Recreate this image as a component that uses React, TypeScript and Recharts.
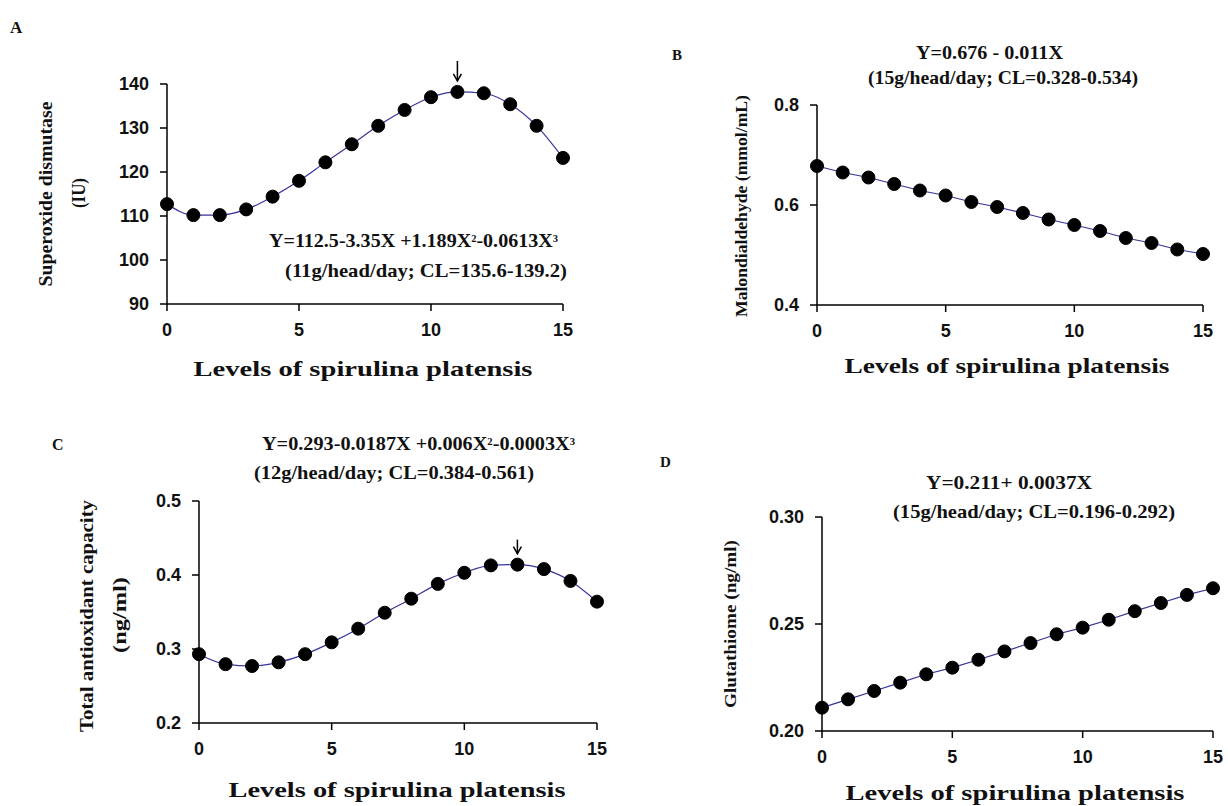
import React from "react";
import { LineChart, Line, XAxis, YAxis, ReferenceDot } from "recharts";

// spirulina level (g/head/day)
const levels = [0, 1, 2, 3, 4, 5, 6, 7, 8, 9, 10, 11, 12, 13, 14, 15];
const levelTicks = [0, 5, 10, 15];

// A: superoxide dismutase (IU)
const sodValues = [112.7, 110.2, 110.2, 111.5, 114.4, 118.0, 122.2, 126.3, 130.5, 134.1, 137.0, 138.2, 137.9, 135.4, 130.5, 123.2];
const sodTicks = [90, 100, 110, 120, 130, 140];

// B: malondialdehyde (mmol/mL)
const mdaValues = [0.678, 0.665, 0.655, 0.642, 0.629, 0.619, 0.606, 0.596, 0.584, 0.571, 0.56, 0.548, 0.534, 0.524, 0.511, 0.502];
const mdaTicks = [0.4, 0.6, 0.8];

// C: total antioxidant capacity (ng/ml)
const taocValues = [0.293, 0.2795, 0.277, 0.282, 0.293, 0.309, 0.3275, 0.349, 0.368, 0.388, 0.403, 0.413, 0.414, 0.408, 0.392, 0.364];
const taocTicks = [0.2, 0.3, 0.4, 0.5];

// D: glutathione (ng/ml)
const gshValues = [0.2109, 0.2148, 0.2187, 0.2226, 0.2265, 0.2296, 0.2333, 0.2372, 0.2411, 0.2452, 0.2483, 0.252, 0.256, 0.2598, 0.2636, 0.2667];
const gshTicks = [0.2, 0.25, 0.3];

const Y_W = 70;
const X_H = 45;
const M_TOP = 30;
const M_RIGHT = 20;

const tickStyle = { fontSize: 18, fontWeight: 700, fill: "#111", fontFamily: "'Liberation Sans', Arial, sans-serif" };
const serif = "'Liberation Serif', 'Times New Roman', serif";

function Arrow(props: any) {
  const { cx, cy, len } = props;
  const tip = cy - 11;
  return (
    <g>
      <line x1={cx} y1={tip - len} x2={cx} y2={tip} stroke="#000" strokeWidth={1.5} />
      <path d={`M${cx - 4},${tip - 7} L${cx},${tip} L${cx + 4},${tip - 7}`} fill="none" stroke="#000" strokeWidth={1.5} />
    </g>
  );
}

interface PanelProps {
  plot: { left: number; top: number; right: number; bottom: number };
  values: number[];
  yDomain: [number, number];
  yTicks: number[];
  yFormat: (v: number) => string;
  curve: "monotone" | "linear";
  arrowAt?: number;
  arrowLen?: number;
}

function Panel({ plot, values, yDomain, yTicks, yFormat, curve, arrowAt, arrowLen = 18 }: PanelProps) {
  const data = levels.map((x, i) => ({ x, y: values[i] }));
  const width = plot.right - plot.left + Y_W + M_RIGHT;
  const height = plot.bottom - plot.top + M_TOP + X_H;
  return (
    <div style={{ position: "absolute", left: plot.left - Y_W, top: plot.top - M_TOP }}>
      <LineChart width={width} height={height} data={data} margin={{ top: M_TOP, right: M_RIGHT, left: 0, bottom: 0 }}>
        <XAxis
          dataKey="x"
          type="number"
          domain={[0, 15]}
          ticks={levelTicks}
          height={X_H}
          tick={tickStyle}
          tickSize={7}
          tickMargin={12}
          axisLine={{ stroke: "#000", strokeWidth: 1.5 }}
          tickLine={{ stroke: "#000", strokeWidth: 1.5 }}
        />
        <YAxis
          type="number"
          domain={yDomain}
          ticks={yTicks}
          interval={0}
          width={Y_W}
          tick={tickStyle}
          tickSize={7}
          tickMargin={11}
          tickFormatter={yFormat}
          axisLine={{ stroke: "#000", strokeWidth: 1.5 }}
          tickLine={{ stroke: "#000", strokeWidth: 1.5 }}
        />
        <Line
          type={curve}
          dataKey="y"
          stroke="#34349a"
          strokeWidth={1.2}
          dot={{ r: 6.5, fill: "#000", stroke: "#000", strokeWidth: 1 }}
          activeDot={false}
          isAnimationActive={false}
        />
        {arrowAt !== undefined && (
          <ReferenceDot
            x={arrowAt}
            y={values[levels.indexOf(arrowAt)]}
            ifOverflow="visible"
            shape={(p: any) => <Arrow cx={p.cx} cy={p.cy} len={arrowLen} />}
          />
        )}
      </LineChart>
    </div>
  );
}

const sup = (s: string) => (
  <tspan baselineShift="super" fontSize={10}>
    {s}
  </tspan>
);

function Labels() {
  const title = { fontFamily: serif, fontWeight: 700, fill: "#111" } as const;
  const eq = { fontFamily: serif, fontWeight: 700, fill: "#111", fontSize: 19 } as const;
  const xTitle = "Levels of spirulina platensis";
  return (
    <svg width={1228} height={806} style={{ position: "absolute", left: 0, top: 0, pointerEvents: "none" }}>
      {/* panel letters */}
      <text x={10} y={33} fontSize={17} {...title}>A</text>
      <text x={672} y={60} fontSize={15} {...title}>B</text>
      <text x={52} y={450} fontSize={16} {...title}>C</text>
      <text x={660} y={467} fontSize={15} {...title}>D</text>

      {/* A */}
      <text x={269} y={247} textLength={289} lengthAdjust="spacingAndGlyphs" {...eq}>
        Y=112.5-3.35X +1.189X{sup("2")}-0.0613X{sup("3")}
      </text>
      <text x={285} y={277} textLength={282} lengthAdjust="spacingAndGlyphs" {...eq}>
        (11g/head/day; CL=135.6-139.2)
      </text>
      <text x={363} y={376} textAnchor="middle" fontSize={21} textLength={339} lengthAdjust="spacingAndGlyphs" {...title}>
        {xTitle}
      </text>
      <text x={52} y={194} transform="rotate(-90 52 194)" textAnchor="middle" fontSize={18} textLength={185} lengthAdjust="spacingAndGlyphs" {...title}>
        Superoxide dismutase
      </text>
      <text x={85} y={193} transform="rotate(-90 85 193)" textAnchor="middle" fontSize={18} textLength={30} lengthAdjust="spacingAndGlyphs" {...title}>
        (IU)
      </text>

      {/* B */}
      <text x={916} y={59} textLength={147} lengthAdjust="spacingAndGlyphs" {...eq}>
        Y=0.676 - 0.011X
      </text>
      <text x={868} y={84} textLength={270} lengthAdjust="spacingAndGlyphs" {...eq}>
        (15g/head/day; CL=0.328-0.534)
      </text>
      <text x={1007} y={373} textAnchor="middle" fontSize={21} textLength={325} lengthAdjust="spacingAndGlyphs" {...title}>
        {xTitle}
      </text>
      <text x={747} y={206} transform="rotate(-90 747 206)" textAnchor="middle" fontSize={17} textLength={222} lengthAdjust="spacingAndGlyphs" {...title}>
        Malondialdehyde (mmol/mL)
      </text>

      {/* C */}
      <text x={262} y={450} textLength={313} lengthAdjust="spacingAndGlyphs" {...eq}>
        Y=0.293-0.0187X +0.006X{sup("2")}-0.0003X{sup("3")}
      </text>
      <text x={254} y={479} textLength={280} lengthAdjust="spacingAndGlyphs" {...eq}>
        (12g/head/day; CL=0.384-0.561)
      </text>
      <text x={397} y={797} textAnchor="middle" fontSize={21} textLength={337} lengthAdjust="spacingAndGlyphs" {...title}>
        {xTitle}
      </text>
      <text x={93} y={616} transform="rotate(-90 93 616)" textAnchor="middle" fontSize={18} textLength={232} lengthAdjust="spacingAndGlyphs" {...title}>
        Total antioxidant capacity
      </text>
      <text x={126} y={615} transform="rotate(-90 126 615)" textAnchor="middle" fontSize={18} textLength={76} lengthAdjust="spacingAndGlyphs" {...title}>
        (ng/ml)
      </text>

      {/* D */}
      <text x={926} y={489} textLength={166} lengthAdjust="spacingAndGlyphs" {...eq}>
        Y=0.211+ 0.0037X
      </text>
      <text x={893} y={518} textLength={282} lengthAdjust="spacingAndGlyphs" {...eq}>
        (15g/head/day; CL=0.196-0.292)
      </text>
      <text x={1015} y={800} textAnchor="middle" fontSize={20} textLength={339} lengthAdjust="spacingAndGlyphs" {...title}>
        {xTitle}
      </text>
      <text x={736} y={624} transform="rotate(-90 736 624)" textAnchor="middle" fontSize={17} textLength={168} lengthAdjust="spacingAndGlyphs" {...title}>
        Glutathiome (ng/ml)
      </text>
    </svg>
  );
}

export default function App() {
  return (
    <div style={{ position: "absolute", left: 0, top: 0, width: 1228, height: 806, overflow: "hidden", background: "#fff" }}>
      <Panel
        plot={{ left: 167, top: 84, right: 563, bottom: 304 }}
        values={sodValues}
        yDomain={[90, 140]}
        yTicks={sodTicks}
        yFormat={(v) => String(v)}
        curve="monotone"
        arrowAt={11}
        arrowLen={20}
      />
      <Panel
        plot={{ left: 817, top: 105, right: 1203, bottom: 305 }}
        values={mdaValues}
        yDomain={[0.4, 0.8]}
        yTicks={mdaTicks}
        yFormat={(v) => v.toFixed(1)}
        curve="linear"
      />
      <Panel
        plot={{ left: 199, top: 501, right: 597, bottom: 723 }}
        values={taocValues}
        yDomain={[0.2, 0.5]}
        yTicks={taocTicks}
        yFormat={(v) => v.toFixed(1)}
        curve="monotone"
        arrowAt={12}
        arrowLen={14}
      />
      <Panel
        plot={{ left: 822, top: 517, right: 1213, bottom: 731 }}
        values={gshValues}
        yDomain={[0.2, 0.3]}
        yTicks={gshTicks}
        yFormat={(v) => v.toFixed(2)}
        curve="linear"
      />
      <Labels />
    </div>
  );
}
